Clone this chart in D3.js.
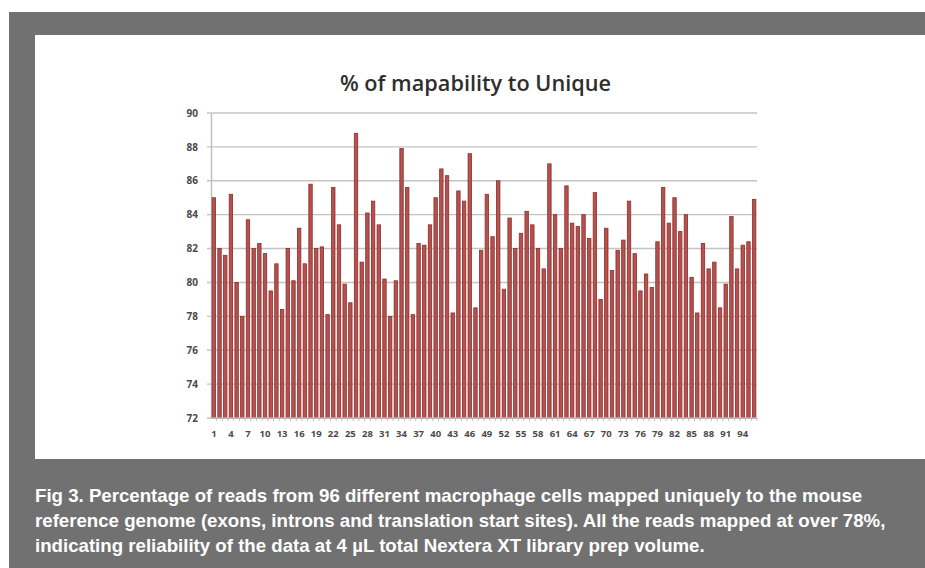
<!DOCTYPE html>
<html lang="en">
<head>
<meta charset="UTF-8">
<title>% of mapability to Unique</title>
<script src="https://d3js.org/d3.v7.min.js"></script>
<style>
  body, html { margin: 0; padding: 0; background: #fff; overflow: hidden; }
  svg { display: block; }
  .tick text { font-family: 'Open Sans', 'DejaVu Sans', sans-serif; font-weight: 700; fill: #4a4a4a; }
</style>
</head>
<body>
<svg id="chart" width="925" height="568"></svg>
<script>
  // % of reads mapped uniquely, cells 1..96
  const cells = d3.range(1, 97);
  const mapability = [
    85.0, 82.0, 81.6, 85.2, 80.0, 78.0, 83.7, 82.0, 82.3, 81.7,
    79.5, 81.1, 78.4, 82.0, 80.1, 83.2, 81.1, 85.8, 82.0, 82.1,
    78.1, 85.6, 83.4, 79.9, 78.8, 88.8, 81.2, 84.1, 84.8, 83.4,
    80.2, 78.0, 80.1, 87.9, 85.6, 78.1, 82.3, 82.2, 83.4, 85.0,
    86.7, 86.3, 78.2, 85.4, 84.8, 87.6, 78.5, 81.9, 85.2, 82.7,
    86.0, 79.6, 83.8, 82.0, 82.9, 84.2, 83.4, 82.0, 80.8, 87.0,
    84.0, 82.0, 85.7, 83.5, 83.3, 84.0, 82.6, 85.3, 79.0, 83.2,
    80.7, 81.9, 82.5, 84.8, 81.7, 79.5, 80.5, 79.7, 82.4, 85.6,
    83.5, 85.0, 83.0, 84.0, 80.3, 78.2, 82.3, 80.8, 81.2, 78.5,
    79.9, 83.9, 80.8, 82.2, 82.4, 84.9
  ];
  const yTicks = d3.range(72, 91, 2);
  const xTickLabels = cells.filter(c => (c - 1) % 3 === 0);
  const title = "% of mapability to Unique";
  const captionLines = [
    "Fig 3. Percentage of reads from 96 different macrophage cells mapped uniquely to the mouse",
    "reference genome (exons, introns and translation start sites). All the reads mapped at over 78%,",
    "indicating reliability of the data at 4 \u00b5L total Nextera XT library prep volume."
  ];

  const svg = d3.select("#chart");

  // grey frame + white chart panel
  svg.append("rect").attr("x", 9).attr("y", 12).attr("width", 916).attr("height", 556).attr("fill", "#717171");
  svg.append("rect").attr("x", 35).attr("y", 35).attr("width", 890).attr("height", 424).attr("fill", "#ffffff");

  const plot = {left: 211, right: 757, top: 113, bottom: 418};

  const x = d3.scaleBand().domain(cells).range([plot.left, plot.right]).paddingInner(0.4).paddingOuter(0.2);
  const y = d3.scaleLinear().domain([72, 90]).range([plot.bottom, plot.top]);

  // gridlines
  svg.append("g")
    .selectAll("line")
    .data(yTicks)
    .join("line")
      .attr("x1", plot.left - 4)
      .attr("x2", plot.right)
      .attr("y1", d => y(d))
      .attr("y2", d => y(d))
      .attr("stroke", "#c4c4c4")
      .attr("stroke-width", 1.4);

  // y axis labels
  const yAxis = svg.append("g")
    .attr("transform", `translate(${plot.left},0)`)
    .call(d3.axisLeft(y).tickValues(yTicks).tickSize(0).tickPadding(13));
  yAxis.select(".domain").attr("stroke", "#bdbdbd").attr("stroke-width", 1.4);
  yAxis.selectAll(".tick text").style("font-size", "10px");

  // bars
  svg.append("g")
    .selectAll("rect")
    .data(mapability)
    .join("rect")
      .attr("x", (d, i) => x(cells[i]))
      .attr("y", d => y(d))
      .attr("width", x.bandwidth())
      .attr("height", d => y(72) - y(d))
      .attr("fill", "#b4524f")
      .attr("stroke", "#8e2c29")
      .attr("stroke-width", 0.8);

  // x axis line + category tick marks
  const xAxisG = svg.append("g");
  xAxisG.append("line")
    .attr("x1", plot.left).attr("x2", plot.right)
    .attr("y1", y(72)).attr("y2", y(72))
    .attr("stroke", "#bdbdbd").attr("stroke-width", 1.4);
  xAxisG.selectAll("line.cat")
    .data(cells)
    .join("line")
      .attr("class", "cat")
      .attr("x1", d => x(d) + x.bandwidth() + x.step() * x.paddingInner() / 2)
      .attr("x2", d => x(d) + x.bandwidth() + x.step() * x.paddingInner() / 2)
      .attr("y1", y(72)).attr("y2", y(72) + 3)
      .attr("stroke", "#bdbdbd").attr("stroke-width", 1);

  const xAxis = svg.append("g")
    .attr("transform", `translate(0,${plot.bottom})`)
    .call(d3.axisBottom(x).tickValues(xTickLabels).tickSize(0).tickPadding(12));
  xAxis.select(".domain").remove();
  xAxis.selectAll(".tick text").style("font-size", "9.5px");

  // title
  svg.append("text")
    .attr("x", 475.5)
    .attr("y", 91)
    .attr("text-anchor", "middle")
    .attr("textLength", 271)
    .attr("lengthAdjust", "spacingAndGlyphs")
    .style("font-family", "'Open Sans', 'DejaVu Sans', sans-serif")
    .style("font-size", "22px")
    .style("font-weight", "600")
    .attr("fill", "#2e2e2e")
    .text(title);

  // caption
  const cap = svg.append("g").attr("transform", "translate(35,0)");
  const capText = cap.selectAll("text")
    .data(captionLines)
    .join("text")
      .attr("x", 0)
      .attr("y", (d, i) => 502 + i * 25)
      .style("font-family", "'Liberation Sans', Arial, sans-serif")
      .style("font-size", "17.5px")
      .style("font-weight", "700")
      .attr("fill", "#ffffff")
      .text(d => d);
  const w0 = capText.nodes()[0].getComputedTextLength();
  const k = 828 / w0;
  cap.attr("transform", `translate(35,0) scale(${k},1)`);
</script>
</body>
</html>
